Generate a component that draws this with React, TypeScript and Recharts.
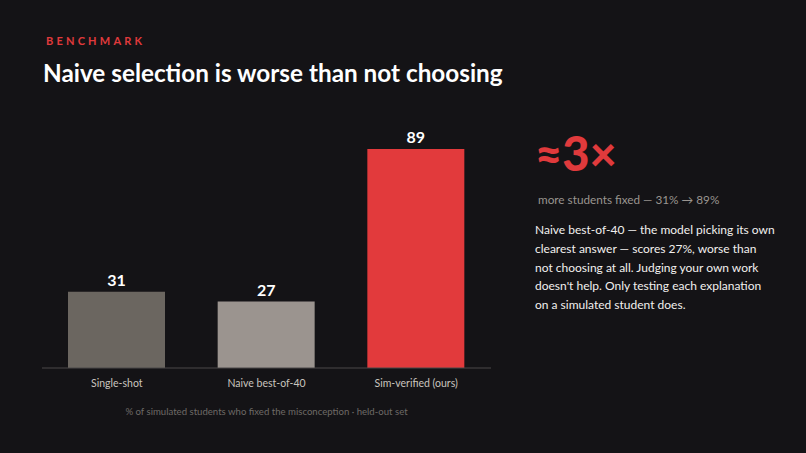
import React from "react";
import { BarChart, Bar, XAxis, YAxis, LabelList, Cell } from "recharts";

const categories = ["Single-shot", "Naive best-of-40", "Sim-verified (ours)"];
const values = [31, 27, 89];
const barColors = ["#6b6660", "#9b948f", "#e23a3c"];

const noteLines = [
  "Naive best-of-40 — the model picking its own",
  "clearest answer — scores 27%, worse than",
  "not choosing at all. Judging your own work",
  "doesn't help. Only testing each explanation",
  "on a simulated student does.",
];

const data = categories.map((name, i) => ({ name, value: values[i] }));

const FONT = "Lato, 'Open Sans', sans-serif";

export default function App() {
  return (
    <div
      style={{
        position: "absolute",
        left: 0,
        top: 0,
        width: 806,
        height: 453,
        background: "#141316",
        fontFamily: FONT,
        overflow: "hidden",
      }}
    >
      <div
        style={{
          position: "absolute",
          left: 46,
          top: 34,
          color: "#e03a3c",
          fontSize: 11,
          fontWeight: 700,
          letterSpacing: 3.2,
        }}
      >
        BENCHMARK
      </div>
      <div
        style={{
          position: "absolute",
          left: 43,
          top: 58,
          color: "#ffffff",
          fontSize: 24.3,
          fontWeight: 700,
          whiteSpace: "nowrap",
        }}
      >
        Naive selection is worse than not choosing
      </div>

      <div style={{ position: "absolute", left: 0, top: 0 }}>
        <BarChart
          width={520}
          height={453}
          data={data}
          margin={{ top: 122, right: 29, bottom: 55, left: 42 }}
        >
          <XAxis
            dataKey="name"
            height={30}
            axisLine={{ stroke: "#4a4848" }}
            tickLine={false}
            tick={{ fill: "#c9c4bf", fontSize: 10.5, fontFamily: FONT }}
            tickMargin={6}
          />
          <YAxis hide domain={[0, 100]} />
          <Bar dataKey="value" barSize={97} isAnimationActive={false}>
            {data.map((d, i) => (
              <Cell key={d.name} fill={barColors[i]} />
            ))}
            <LabelList
              dataKey="value"
              position="top"
              offset={6}
              fill="#ffffff"
              style={{ fontSize: 16, fontWeight: 700, fontFamily: FONT }}
            />
          </Bar>
        </BarChart>
      </div>

      <div
        style={{
          position: "absolute",
          left: 0,
          width: 533,
          top: 406,
          textAlign: "center",
          color: "#6e6a66",
          fontSize: 9.6,
        }}
      >
        % of simulated students who fixed the misconception · held-out set
      </div>

      <div
        style={{
          position: "absolute",
          left: 535,
          top: 127,
          color: "#e03a3c",
          fontSize: 47,
          fontWeight: 900,
          lineHeight: "52px",
        }}
      >
        ≈3×
      </div>
      <div
        style={{
          position: "absolute",
          left: 538,
          top: 192,
          color: "#9a9590",
          fontSize: 11.75,
        }}
      >
        more students fixed — 31% → 89%
      </div>
      <div
        style={{
          position: "absolute",
          left: 535,
          top: 221,
          color: "#f2f0ee",
          fontSize: 12,
          lineHeight: "18.8px",
          whiteSpace: "nowrap",
        }}
      >
        {noteLines.map((l) => (
          <div key={l}>{l}</div>
        ))}
      </div>
    </div>
  );
}
